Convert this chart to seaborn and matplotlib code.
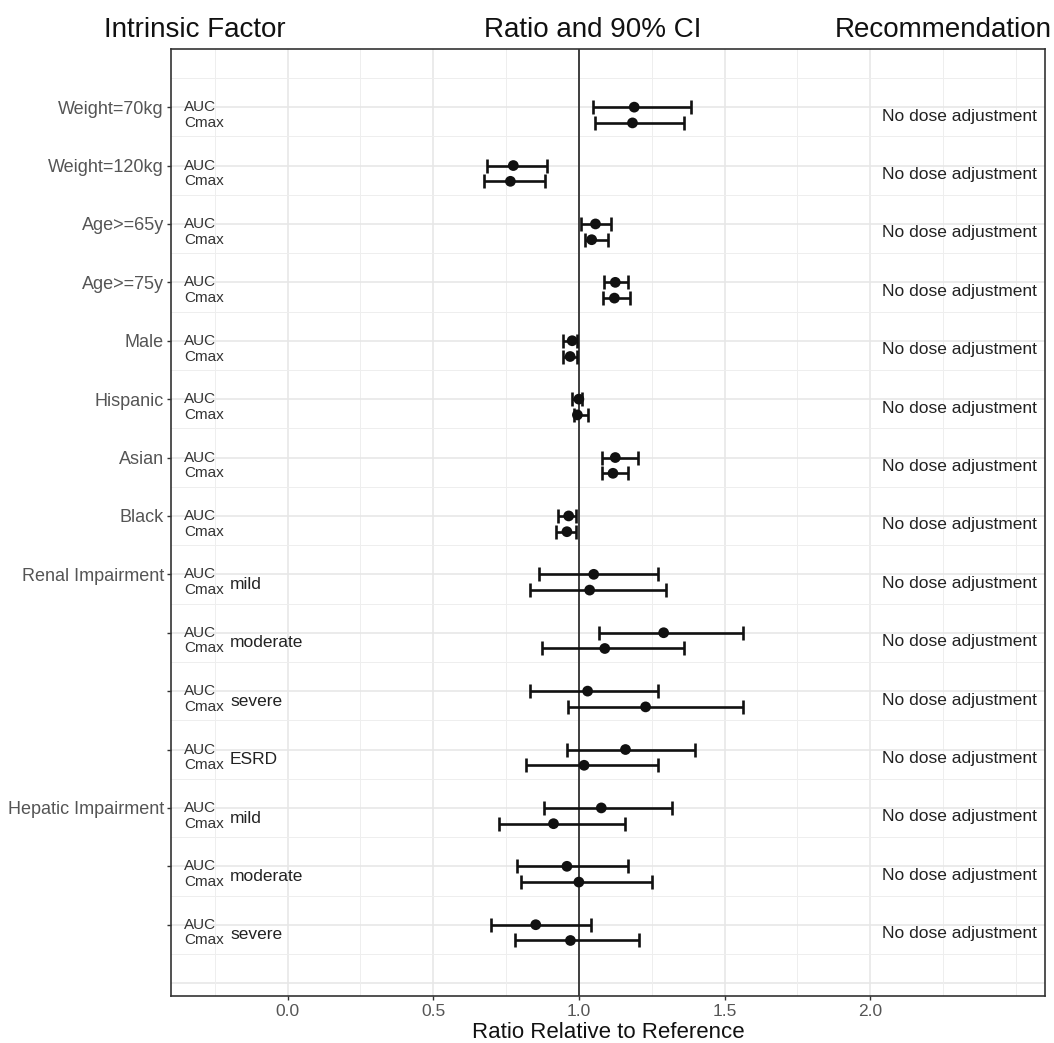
import numpy as np
import pandas as pd
import matplotlib.pyplot as plt
from matplotlib.ticker import FixedLocator
import seaborn as sns

# --- data ---
factors = ["Weight=70kg", "Weight=120kg", "Age>=65y", "Age>=75y", "Male", "Hispanic",
           "Asian", "Black", "Renal Impairment", "", "", "", "Hepatic Impairment", "", ""]
subgroups = ["", "", "", "", "", "", "", "", "mild", "moderate", "severe", "ESRD",
             "mild", "moderate", "severe"]

auc_ratio = [1.19, 0.775, 1.057, 1.125, 0.977, 1.000, 1.125, 0.965, 1.051, 1.291, 1.030, 1.160, 1.077, 0.959, 0.852]
auc_lo = [1.048, 0.686, 1.009, 1.086, 0.947, 0.977, 1.080, 0.929, 0.864, 1.069, 0.834, 0.959, 0.879, 0.787, 0.697]
auc_hi = [1.384, 0.891, 1.109, 1.168, 0.994, 1.012, 1.202, 0.989, 1.271, 1.562, 1.271, 1.398, 1.318, 1.170, 1.042]

cmax_ratio = [1.184, 0.765, 1.044, 1.122, 0.970, 0.995, 1.117, 0.959, 1.037, 1.089, 1.229, 1.018, 0.913, 1.000, 0.971]
cmax_lo = [1.054, 0.674, 1.022, 1.083, 0.947, 0.982, 1.080, 0.921, 0.834, 0.873, 0.964, 0.820, 0.725, 0.802, 0.781]
cmax_hi = [1.362, 0.884, 1.099, 1.175, 0.994, 1.030, 1.168, 0.989, 1.299, 1.360, 1.562, 1.271, 1.160, 1.251, 1.206]

recommendation = ["No dose adjustment"] * len(factors)

# long table: AUC on the row, Cmax just below it
rows = np.arange(len(factors))
cmax_off = 0.27
df = pd.concat([
    pd.DataFrame({"pk": "AUC", "y": rows, "ratio": auc_ratio, "lo": auc_lo, "hi": auc_hi}),
    pd.DataFrame({"pk": "Cmax", "y": rows + cmax_off, "ratio": cmax_ratio, "lo": cmax_lo, "hi": cmax_hi}),
], ignore_index=True)

sns.set_theme(style="white")
plt.rcParams["font.family"] = ["Liberation Sans", "DejaVu Sans"]

fig = plt.figure(figsize=(10.54, 10.43), dpi=100)
ax = fig.add_axes([0.1622, 0.0451, 0.8293, 0.9076])

# grid like ggplot theme_bw
ax.set_xlim(-0.4, 2.6)
ax.set_ylim(15.22, -0.99)
ax.xaxis.set_major_locator(FixedLocator([0.0, 0.5, 1.0, 1.5, 2.0]))
ax.xaxis.set_minor_locator(FixedLocator([-0.25, 0.25, 0.75, 1.25, 1.75, 2.25, 2.5]))
ax.yaxis.set_major_locator(FixedLocator(list(rows)))
ax.yaxis.set_minor_locator(FixedLocator(np.arange(-0.5, 15, 1.0)))
ax.grid(True, which="major", color="#E6E6E6", lw=1.1)
ax.grid(True, which="minor", color="#EEEEEE", lw=0.7)
ax.axhline(15, color="#E6E6E6", lw=1.1, zorder=0)
ax.set_axisbelow(True)

ax.axvline(1.0, color="#222222", lw=1.2, zorder=1)

ax.errorbar(df["ratio"], df["y"],
            xerr=[df["ratio"] - df["lo"], df["hi"] - df["ratio"]],
            fmt="none", ecolor="#111111", elinewidth=1.9, capsize=5, capthick=1.9, zorder=3)
sns.scatterplot(data=df, x="ratio", y="y", color="#111111", s=60, edgecolor="none",
                legend=False, ax=ax, zorder=4)

# inner labels
for r in rows:
    ax.text(-0.355, r, "AUC", ha="left", va="center", fontsize=11, color="#333333")
    ax.text(-0.355, r + cmax_off, "Cmax", ha="left", va="center", fontsize=11, color="#333333")
    if subgroups[r]:
        ax.text(-0.197, r + cmax_off / 2 + 0.04, subgroups[r], ha="left", va="center",
                fontsize=12.5, color="#222222")
    ax.text(2.571, r + cmax_off / 2 + 0.02, recommendation[r], ha="right", va="center",
            fontsize=12.5, color="#222222")

ax.set_yticklabels(factors)
ax.set_xticklabels(["0.0", "0.5", "1.0", "1.5", "2.0"])
ax.tick_params(axis="y", which="major", length=3, width=1, color="#333333",
               labelsize=13, labelcolor="#555555", pad=2, left=True)
ax.tick_params(axis="x", which="major", length=3, width=1, color="#333333",
               labelsize=12.5, labelcolor="#555555", pad=3, bottom=True)
ax.tick_params(which="minor", length=0)

ax.set_xlabel("Ratio Relative to Reference", fontsize=16, color="#111111", labelpad=2)
ax.set_ylabel("")

for sp in ax.spines.values():
    sp.set_color("#333333")
    sp.set_linewidth(1.2)

# column headers
fig.text(0.185, 0.971, "Intrinsic Factor", ha="center", va="center", fontsize=20, color="#111111")
fig.text(0.5626, 0.971, "Ratio and 90% CI", ha="center", va="center", fontsize=20, color="#111111")
fig.text(0.8947, 0.971, "Recommendation", ha="center", va="center", fontsize=20, color="#111111")

fig.savefig("out.png", dpi=100)
